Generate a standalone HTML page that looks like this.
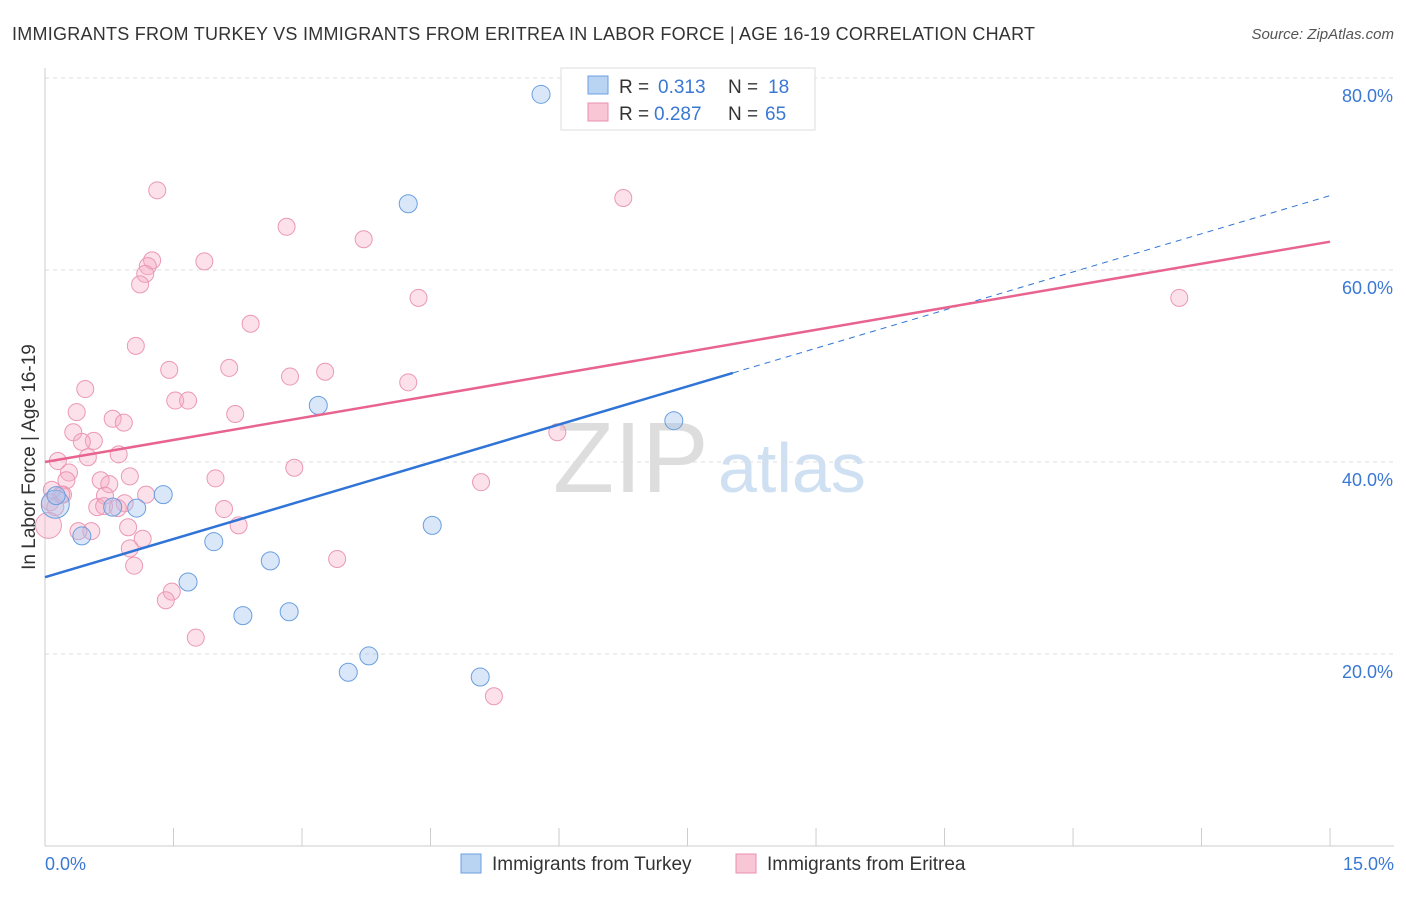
<!DOCTYPE html>
<html><head><meta charset="utf-8"><style>
body{margin:0;background:#fff;font-family:"Liberation Sans",sans-serif;}
svg text{font-family:"Liberation Sans",sans-serif;}
</style></head><body>
<svg id="chart" width="1406" height="892">
<text x="12" y="40" font-size="18" fill="#333" textLength="1023">IMMIGRANTS FROM TURKEY VS IMMIGRANTS FROM ERITREA IN LABOR FORCE | AGE 16-19 CORRELATION CHART</text>
<text x="1394" y="39" font-size="15" fill="#555" text-anchor="end" font-style="italic">Source: ZipAtlas.com</text>
<text x="35" y="457" font-size="19" fill="#333" text-anchor="middle" transform="rotate(-90 35 457)">In Labor Force | Age 16-19</text>
<text x="553" y="492" font-size="100" fill="#ddd" font-family="Liberation Serif">ZIP</text>
<text x="718" y="492" font-size="70" fill="#cfe0f3">atlas</text>
<g id="grid"></g><g id="axes"></g><g id="marks"></g>
<g>
<rect x="561" y="68" width="254" height="62" fill="#fff" stroke="#ddd"/>
<rect x="588" y="76" width="20" height="18" fill="#b9d3f3" stroke="#6a9fdf"/>
<rect x="588" y="103" width="20" height="18" fill="#f9c6d6" stroke="#e98fac"/>
<text x="619" y="93" font-size="19" fill="#333">R =</text>
<text x="658" y="93" font-size="19" fill="#3a78d4">0.313</text>
<text x="728" y="93" font-size="19" fill="#333">N =</text>
<text x="768" y="93" font-size="19" fill="#3a78d4">18</text>
<text x="619" y="120" font-size="19" fill="#333">R =</text>
<text x="654" y="120" font-size="19" fill="#3a78d4">0.287</text>
<text x="728" y="120" font-size="19" fill="#333">N =</text>
<text x="765" y="120" font-size="19" fill="#3a78d4">65</text>
</g>
<g>
<rect x="461" y="854" width="20" height="19" fill="#b9d3f3" stroke="#6a9fdf"/>
<text x="492" y="870" font-size="19" fill="#333">Immigrants from Turkey</text>
<rect x="736" y="854" width="20" height="19" fill="#f9c6d6" stroke="#e98fac"/>
<text x="767" y="870" font-size="19" fill="#333">Immigrants from Eritrea</text>
</g>
</svg>
<script>
const xTicks=[0,15];
const yTicks=[20,40,60,80];
const turkeyX=[5.79,4.24,3.19,7.34,1.38,1.07,0.79,0.12,0.43,1.97,4.52,1.67,2.63,2.31,2.85,3.78,3.54,5.08,0.13];
const turkeyY=[78.3,66.9,45.9,44.3,36.6,35.2,35.3,35.6,32.3,31.7,33.4,27.5,29.7,24.0,24.4,19.8,18.1,17.6,36.5];
const eritreaX=[1.31,6.75,2.82,3.72,1.25,1.20,1.86,1.17,1.11,4.36,13.24,2.40,1.06,1.45,2.15,3.27,2.86,4.24,0.47,1.52,1.67,0.37,2.22,0.79,0.92,0.33,5.98,0.57,0.43,0.50,0.86,0.15,2.91,0.28,1.99,0.99,0.65,5.09,0.25,0.75,0.21,0.70,1.18,2.09,0.61,0.93,0.69,0.06,0.12,0.97,2.26,0.54,0.04,1.14,0.99,3.41,1.04,1.48,1.41,1.76,5.24,0.19,0.39,0.08,0.85];
const eritreaY=[68.3,67.5,64.5,63.2,61.0,60.4,60.9,59.6,58.5,57.1,57.1,54.4,52.1,49.6,49.8,49.4,48.9,48.3,47.6,46.4,46.4,45.2,45.0,44.5,44.1,43.1,43.1,42.2,42.1,40.5,40.8,40.1,39.4,38.9,38.3,38.5,38.1,37.9,38.1,37.7,36.6,36.5,36.6,35.1,35.3,35.7,35.4,35.8,35.3,33.2,33.4,32.8,33.4,32.0,31.0,29.9,29.2,26.5,25.6,21.7,15.6,36.6,32.8,37.1,35.2];
const turkeySize=[9,9,9,9,9,9,9,14,9,9,9,9,9,9,9,9,9,9,9];
const x0=45,pxPerX=85.67,y0=846,pxPerY=9.6;
const sx=v=>x0+v*pxPerX, sy=v=>y0-v*pxPerY;
const NS="http://www.w3.org/2000/svg";
function mk(t,a,p){const e=document.createElementNS(NS,t);for(const k in a)e.setAttribute(k,a[k]);p.appendChild(e);return e;}
const grid=document.getElementById('grid'),axes=document.getElementById('axes'),marks=document.getElementById('marks');
yTicks.forEach(v=>{
 const l=mk('line',{x1:45,x2:1394,y1:sy(v),y2:sy(v),stroke:'#ddd','stroke-dasharray':'4,4'},grid);
 
 
 const t=mk('text',{x:1393,y:sy(v)+24,'font-size':18,fill:'#3a78d4','text-anchor':'end'},axes);t.textContent=v.toFixed(1)+'%';
 
 
});
mk('line',{x1:45,x2:45,y1:68,y2:846,stroke:'#ccc'},axes);
mk('line',{x1:45,x2:1394,y1:846,y2:846,stroke:'#ccc'},axes);
for(let i=0;i<=10;i++){const x=sx(i*1.5);mk('line',{x1:x,x2:x,y1:828,y2:846,stroke:'#ccc'},axes);}
xTicks.forEach((v,i)=>{const t=mk('text',{x:i==0?45:1394,y:870,'font-size':18,fill:'#3a78d4','text-anchor':i==0?'start':'end'},axes);t.textContent=v.toFixed(1)+'%';
 
 });
eritreaX.forEach((v,i)=>{const c=mk('circle',{cx:sx(v),cy:sy(eritreaY[i]),r:i==52?13:8.5,fill:'rgba(246,170,195,0.35)',stroke:'#eb98b4','stroke-width':1},marks);
 
 });
turkeyX.forEach((v,i)=>{const c=mk('circle',{cx:sx(v),cy:sy(turkeyY[i]),r:turkeySize[i],fill:'rgba(160,196,240,0.4)',stroke:'#6a9fdf','stroke-width':1},marks);
 
 });
const [ta,tb]=[28.0,2.65];
const [ea,eb]=[40.0,1.53];
let l=mk('line',{x1:sx(0),y1:sy(ta),x2:sx(8.03),y2:sy(ta+tb*8.03),stroke:'#2f74d6','stroke-width':2.5},marks);


l=mk('line',{x1:sx(8.03),y1:sy(ta+tb*8.03),x2:sx(15),y2:sy(ta+tb*15),stroke:'#2f74d6','stroke-width':1,'stroke-dasharray':'6,5'},marks);


l=mk('line',{x1:sx(0),y1:sy(ea),x2:sx(15),y2:sy(ea+eb*15),stroke:'#e8648f','stroke-width':2.5},marks);


</script>
</body></html>
